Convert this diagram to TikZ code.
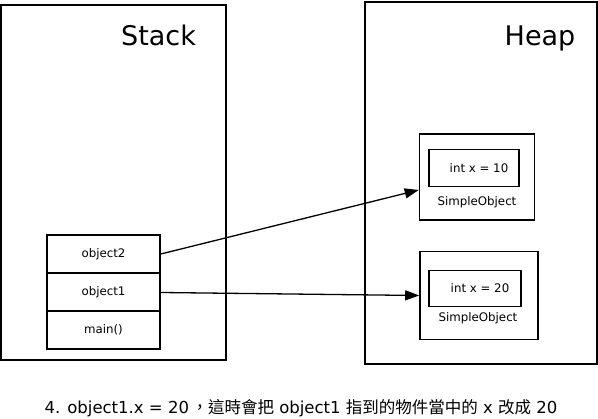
\documentclass[tikz,border=0pt]{standalone}
\usepackage{fontspec}
\setmainfont{DejaVu Sans}
\newfontfamily\cjk{Noto Sans CJK TC}
\usetikzlibrary{arrows.meta}
\begin{document}
\begin{tikzpicture}[x=1pt,y=-1pt,
  frame/.style={draw,line width=2pt},
  small/.style={font=\fontsize{11.8}{12}\selectfont},
  cell/.style={draw,line width=1.6pt,minimum width=113pt,minimum height=38pt,inner sep=0pt,small},
  title/.style={font=\fontsize{27}{29}\selectfont},
  ptr/.style={line width=1.3pt,-{Triangle[length=14pt,width=10pt]}}]
\useasboundingbox (0,0) rectangle (598,419);
% Stack
\draw[frame] (1,5) rectangle (226,360);
\node[title] (stack) at (158.5,35) {Stack};
\node[cell] (o2) at (103.5,254) {object2};
\node[cell] (o1) at (103.5,292.5) {object1};
\node[cell] (mn) at (103.5,330) {main()};
% Heap
\draw[frame] (365,2) rectangle (597,364);
\node[title] (heap) at (540,38) {Heap};
% object A
\node[draw,line width=1.6pt,minimum width=115pt,minimum height=86pt,inner sep=0pt] (ha) at (477,177) {};
\node[draw,line width=1.6pt,minimum width=90pt,minimum height=37pt,inner sep=0pt,small] (ia) at (474,168) {\hspace{10pt}int x = 10};
\node[small] (sa) at (477,202) {SimpleObject};
% object B
\node[draw,line width=1.6pt,minimum width=118pt,minimum height=88pt,inner sep=0pt] (hb) at (479,295.5) {};
\node[draw,line width=1.6pt,minimum width=92pt,minimum height=36pt,inner sep=0pt,small] (ib) at (475,288.5) {\hspace{10pt}int x = 20};
\node[small] (sb) at (478,318) {SimpleObject};
% pointers
\draw[ptr] (o2.east) -- (ha.west|-0,190);
\draw[ptr] (o1.east) -- (hb.west);
% caption
\node[font=\fontsize{16.5}{18}\selectfont] (cap) at (301,408) {4. object1.x = 20\hspace{2.5pt}{\cjk ，這時會把} object1 {\cjk 指到的物件當中的} x {\cjk 改成} 20};
\end{tikzpicture}
\end{document}
